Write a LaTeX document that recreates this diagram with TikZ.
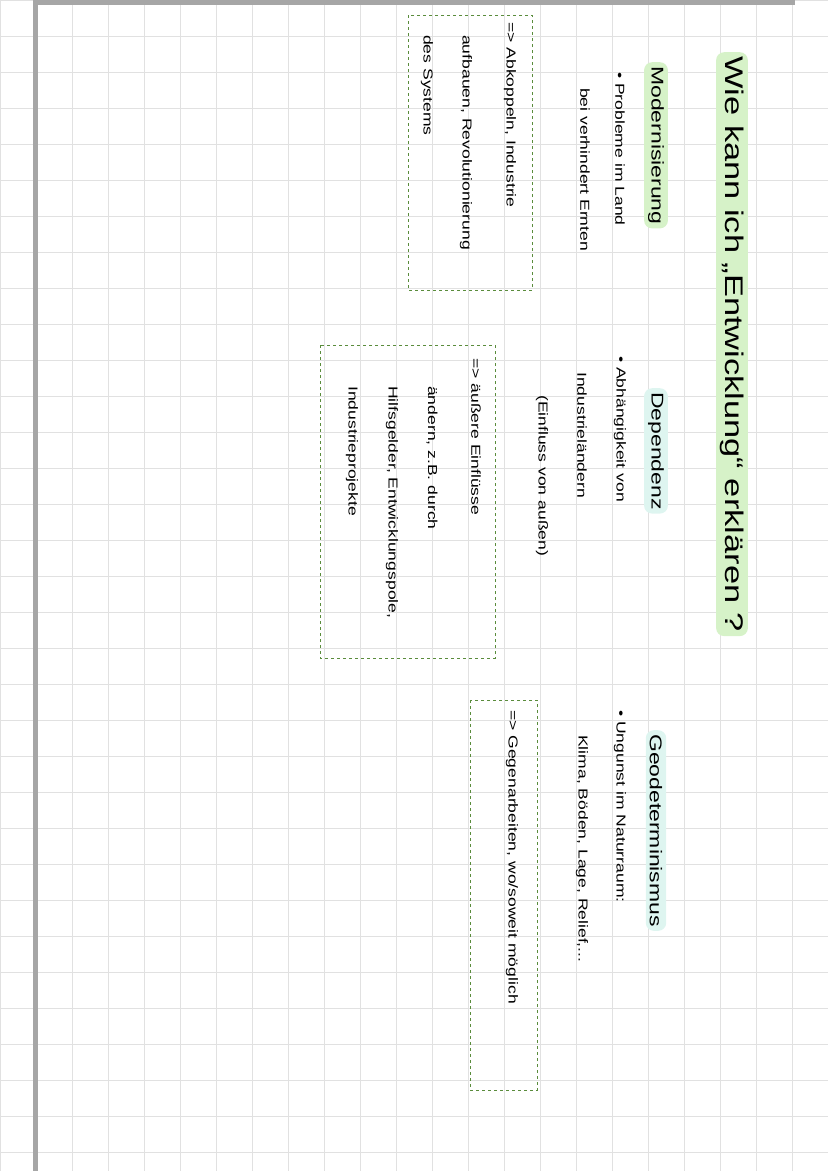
\documentclass[tikz,border=0pt]{standalone}
\usepackage{fontspec}
\setmainfont[FakeStretch=1.35]{Liberation Sans}
\usetikzlibrary{positioning}
\definecolor{hilite}{RGB}{214,242,200}
\definecolor{hilitetwo}{RGB}{222,245,240}
\definecolor{boxgreen}{RGB}{90,140,60}
\definecolor{gridgray}{RGB}{225,225,225}
\tikzset{
  txt/.style={rotate=-90, anchor=west, inner sep=0pt, font=\fontsize{13}{15}\selectfont},
  head/.style={txt, font=\fontsize{17}{20}\selectfont, fill=hilite, rounded corners=8pt, inner sep=4pt},
  dashbox/.style={draw=boxgreen, dashed, line width=0.8pt}
}
\begin{document}
\begin{tikzpicture}[x=1pt,y=-1pt]
            \useasboundingbox (0,0) rectangle (828,1171);
            % paper grid
            \foreach \gx in {0,36,...,828} \draw[gridgray] (\gx,0) -- (\gx,1171);
            \foreach \gy in {0,36,...,1171} \draw[gridgray] (0,\gy) -- (828,\gy);
            \fill[gray!70] (33,0) rectangle (38,1171);
            \fill[gray!70] (33,0) rectangle (795,5);
            
            % title
            \node[head, font=\fontsize{25.5}{28}\selectfont] (title) at (732,52) {Wie kann ich „Entwicklung“ erklären ?};
            
            % Modernisierung
            \node[head] (mod) at (656,62) {Modernisierung};
            \node[txt] (mod1) at (620,72) {• Probleme im Land};
            \node[txt] (mod2) at (585,88) {bei verhindert Ernten};
            \draw[dashbox] (408,15) rectangle (532,290);
            \node[txt] (modA) at (510,22) {=> Abkoppeln, Industrie};
            \node[txt] (modB) at (466,35) {aufbauen, Revolutionierung};
            \node[txt] (modC) at (427,35) {des Systems};
            
            % Dependenz
            \node[head, fill=hilitetwo] (dep) at (656,388) {Dependenz};
            \node[txt] (dep1) at (620,356) {• Abhängigkeit von};
            \node[txt] (dep2) at (582,372) {Industrieländern};
            \node[txt] (dep3) at (542,395) {(Einfluss von außen)};
            \draw[dashbox] (320,345) rectangle (495,658);
            \node[txt] (depA) at (476,358) {=> äußere Einflüsse};
            \node[txt] (depB) at (432,386) {ändern, z.B. durch};
            \node[txt] (depC) at (392,386) {Hilfsgelder, Entwicklungspole,};
            \node[txt] (depD) at (352,386) {Industrieprojekte};
            
            % Geodeterminismus
            \node[head, fill=hilitetwo] (geo) at (656,730) {Geodeterminismus};
            \node[txt] (geo1) at (620,710) {• Ungunst im Naturraum:};
            \node[txt] (geo2) at (582,735) {Klima, Böden, Lage, Relief,...};
            \draw[dashbox] (470,700) rectangle (537,1090);
            \node[txt] (geoA) at (512,710) {=> Gegenarbeiten, wo/soweit möglich};
\end{tikzpicture}
\end{document}
